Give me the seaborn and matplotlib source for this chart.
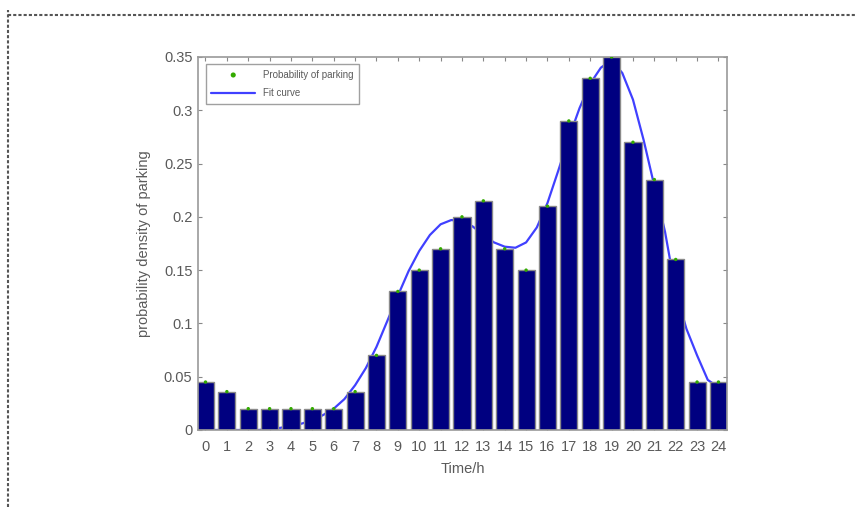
import matplotlib
matplotlib.use("Agg")
import matplotlib.pyplot as plt
from matplotlib.lines import Line2D
import seaborn as sns

# data
hours = list(range(25))
prob = [0.045, 0.036, 0.02, 0.02, 0.02, 0.02, 0.02, 0.036, 0.07, 0.13,
        0.15, 0.17, 0.2, 0.215, 0.17, 0.15, 0.21, 0.29, 0.33, 0.35,
        0.27, 0.235, 0.16, 0.045, 0.045]

fit_x = [0, 0.5, 1, 1.5, 2, 2.5, 3, 3.5, 4, 4.5, 5, 5.5, 6, 6.5, 7, 7.5,
         8, 8.5, 9, 9.5, 10, 10.5, 11, 11.5, 12, 12.5, 13, 13.5, 14, 14.5,
         15, 15.5, 16, 16.5, 17, 17.5, 18, 18.5, 19, 19.5, 20, 20.5, 21,
         21.5, 22, 22.5, 23, 23.5, 24]
fit_y = [0.0, 0.0, 0.0, 0.0, 0.0, 0.0, 0.001, 0.002, 0.004, 0.006, 0.009,
         0.014, 0.02, 0.029, 0.042, 0.058, 0.078, 0.102, 0.126, 0.149,
         0.168, 0.183, 0.193, 0.197, 0.196, 0.191, 0.183, 0.176, 0.172,
         0.171, 0.176, 0.19, 0.213, 0.243, 0.274, 0.302, 0.325, 0.34,
         0.347, 0.335, 0.31, 0.272, 0.229, 0.186, 0.13, 0.095, 0.07,
         0.047, 0.04]

sns.set_style("white")
plt.rcParams['font.family'] = ['Liberation Sans', 'DejaVu Sans']

fig = plt.figure(figsize=(8.55, 5.07), dpi=100)
ax = fig.add_axes([0.2316, 0.1519, 0.6187, 0.7357])

# fit curve sits behind the bars
sns.lineplot(x=fit_x, y=fit_y, ax=ax, color='#4040ff', lw=1.6, zorder=1,
             label='Fit curve')
sns.barplot(x=hours, y=prob, ax=ax, native_scale=True, width=0.8,
            color='#000080', saturation=1, edgecolor='#8a8a8a', linewidth=1.0,
            zorder=2)
sns.scatterplot(x=hours, y=prob, ax=ax, color='#33aa00', s=6, edgecolor='none',
                zorder=3, label='Probability of parking')

ax.set_xlim(-0.35, 24.4)
ax.set_ylim(0, 0.35)
ax.set_xticks(hours)
ax.set_xticklabels([str(h) for h in hours])
ax.set_yticks([0, 0.05, 0.1, 0.15, 0.2, 0.25, 0.3, 0.35])
ax.set_yticklabels(['0', '0.05', '0.1', '0.15', '0.2', '0.25', '0.3', '0.35'])
ax.tick_params(direction='in', length=3, width=0.8, colors='#888888',
               labelcolor='#5a5a5a', labelsize=10.5, top=True, right=True,
               bottom=True, left=True, pad=4)
ax.tick_params(axis='x', pad=7)
for s in ax.spines.values():
    s.set_color('#999999')
    s.set_linewidth(1.2)
ax.set_xlabel('Time/h', fontsize=10.5, color='#5a5a5a', labelpad=6)
ax.set_ylabel('probability density of parking', fontsize=10.5, color='#5a5a5a',
              labelpad=9)

handles, labels = ax.get_legend_handles_labels()
order = [labels.index('Probability of parking'), labels.index('Fit curve')]
leg = ax.legend([handles[i] for i in order], [labels[i] for i in order],
                loc='upper left', bbox_to_anchor=(0.005, 0.995), fontsize=7,
                frameon=True, fancybox=False, edgecolor='#888888',
                handlelength=4.5, borderpad=0.6, labelspacing=0.9,
                markerscale=1.5)
leg.get_frame().set_linewidth(1.0)
for t in leg.get_texts():
    t.set_color('#5a5a5a')

# dotted page frame around the picture
fig.add_artist(Line2D([8 / 855, 1], [1 - 15 / 507, 1 - 15 / 507],
                      transform=fig.transFigure, color='#555555', lw=1.5,
                      linestyle=(0, (1.5, 1))))
fig.add_artist(Line2D([8 / 855, 8 / 855], [0, 1 - 10 / 507],
                      transform=fig.transFigure, color='#555555', lw=1.5,
                      linestyle=(0, (1.5, 1))))

fig.savefig('out.png', dpi=100)
